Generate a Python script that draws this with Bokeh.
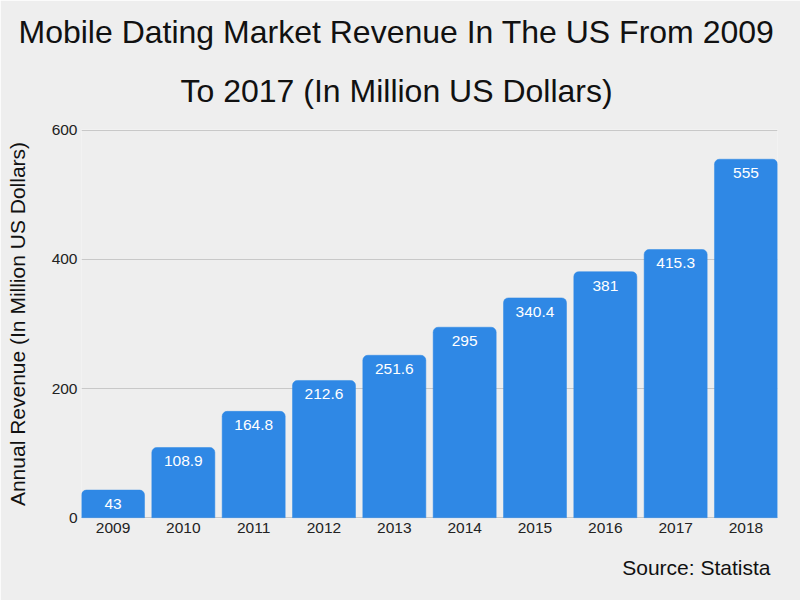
from bokeh.plotting import figure
from bokeh.models import ColumnDataSource, Range1d, FixedTicker, Title
from bokeh.embed import file_html
from bokeh.resources import INLINE
from bokeh.core.properties import value

years = ["2009", "2010", "2011", "2012", "2013", "2014", "2015", "2016", "2017", "2018"]
revenue = [43, 108.9, 164.8, 212.6, 251.6, 295, 340.4, 381, 415.3, 555]
value_labels = ["43", "108.9", "164.8", "212.6", "251.6", "295", "340.4", "381", "415.3", "555"]
y_ticks = [0, 200, 400, 600]

title_line1 = "Mobile Dating Market Revenue In The US From 2009"
title_line2 = "To 2017 (In Million US Dollars)"
y_label = "Annual Revenue (In Million US Dollars)"
source_text = "Source: Statista"

FONT = "Liberation Sans"
BG = "#eeeeee"
BAR = "#2f88e5"

idx = list(range(len(years)))
src = ColumnDataSource(dict(x=idx, top=revenue, label=value_labels))

bw = 0.896
p = figure(width=800, height=600, output_backend="svg", toolbar_location=None,
           x_range=Range1d(-bw / 2, len(years) - 1 + bw / 2), y_range=Range1d(-1, 601),
           min_border_left=81, min_border_right=23, min_border_top=129, min_border_bottom=82)
p.background_fill_color = BG
p.border_fill_color = BG
p.outline_line_color = None

p.vbar(x="x", top="top", bottom=0, width=bw, source=src, fill_color=BAR,
       line_color=BAR, line_width=0.5, border_radius=(5, 5, 0, 0))

p.text(x="x", y="top", text="label", source=src, y_offset=14,
       text_align="center", text_baseline="alphabetic", text_color="white",
       text_font=value(FONT), text_font_size="15.5px")

p.xgrid.visible = False
p.ygrid.ticker = FixedTicker(ticks=y_ticks)
p.ygrid.grid_line_color = "#c8c8c8"
p.ygrid.grid_line_width = 1

p.xaxis.ticker = FixedTicker(ticks=idx)
p.xaxis.major_label_overrides = {i: y for i, y in zip(idx, years)}
p.yaxis.ticker = FixedTicker(ticks=y_ticks)
for ax in (p.xaxis, p.yaxis):
    ax.axis_line_color = None
    ax.major_tick_line_color = None
    ax.minor_tick_line_color = None
    ax.major_tick_out = 0
    ax.major_tick_in = 0
    ax.major_label_standoff = 4
    ax.major_label_text_font = FONT
    ax.major_label_text_font_size = "15.5px"
    ax.major_label_text_color = "#222222"

p.yaxis.axis_label = y_label
p.yaxis.axis_label_text_font = FONT
p.yaxis.axis_label_text_font_size = "21px"
p.yaxis.axis_label_text_font_style = "normal"
p.yaxis.axis_label_text_color = "#111111"
p.yaxis.axis_label_standoff = 20


def make_title(text, size, align, offset, standoff):
    return Title(text=text, text_font=FONT, text_font_size=size, text_font_style="normal",
                 text_color="#111111", align=align, offset=offset, standoff=standoff)


p.add_layout(make_title(title_line2, "32px", "left", 99, 42), "above")
p.add_layout(make_title(title_line1, "32px", "left", -63, 0), "above")
p.add_layout(make_title(source_text, "21px", "right", 7, 37), "below")

open("out.html", "w").write(file_html(p, INLINE))
